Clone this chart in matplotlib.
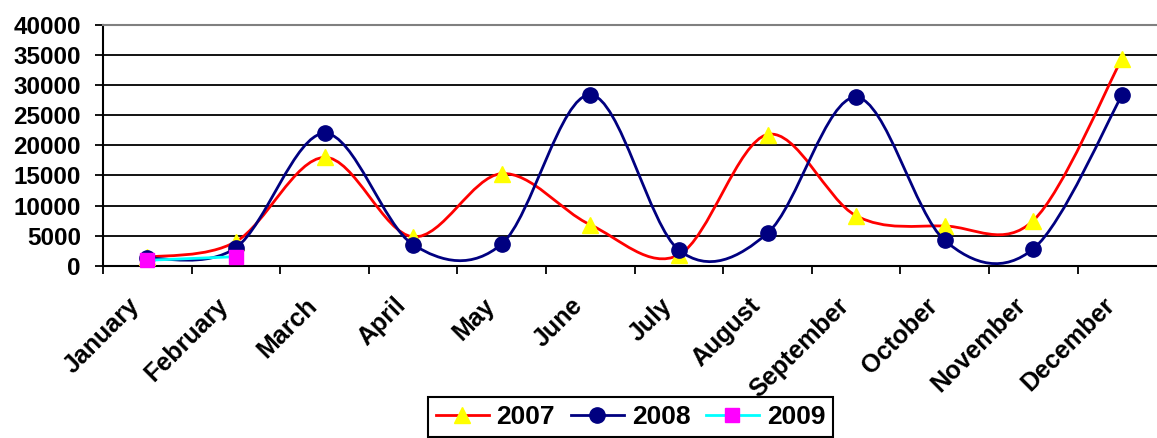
import matplotlib
matplotlib.use("Agg")
import matplotlib.pyplot as plt
from matplotlib.path import Path
from matplotlib.patches import PathPatch
from matplotlib.lines import Line2D
import matplotlib.transforms as mtrans
import numpy as np

months = ["January", "February", "March", "April", "May", "June", "July",
          "August", "September", "October", "November", "December"]
sales_2007 = [1400, 4000, 18000, 4800, 15300, 6800, 1800, 21800, 8300, 6600, 7500, 34400]
sales_2008 = [1200, 3000, 22000, 3500, 3600, 28400, 2600, 5400, 28000, 4200, 2800, 28300]
sales_2009 = [900, 1500]

plt.rcParams["font.family"] = ["Liberation Sans", "DejaVu Sans"]
plt.rcParams["font.weight"] = "bold"


def smooth_path(xs, ys):
    # excel style smoothed line: catmull-rom turned into cubic bezier pieces
    pts = np.column_stack([xs, ys]).astype(float)
    n = len(pts)
    verts = [pts[0]]
    codes = [Path.MOVETO]
    for i in range(n - 1):
        p0 = pts[i - 1] if i > 0 else pts[i]
        p1 = pts[i]
        p2 = pts[i + 1]
        p3 = pts[i + 2] if i + 2 < n else pts[i + 1]
        c1 = p1 + (p2 - p0) / 6.0
        c2 = p2 - (p3 - p1) / 6.0
        verts += [c1, c2, p2]
        codes += [Path.CURVE4] * 3
    return Path(verts, codes)


fig = plt.figure(figsize=(11.57, 4.38), dpi=100)
ax = fig.add_axes([103 / 1157, 172.3 / 438, 1063.2 / 1157, 240.7 / 438])

series = [
    (sales_2007, "2007", "#FF0000", "^", "#FFFF00", 11),
    (sales_2008, "2008", "#000080", "o", "#000080", 11),
    (sales_2009, "2009", "#00FFFF", "s", "#FF00FF", 10),
]

handles = []
for vals, name, col, mk, mcol, ms in series:
    x = np.arange(len(vals))
    ax.add_patch(PathPatch(smooth_path(x, vals), facecolor="none",
                           edgecolor=col, lw=2, zorder=3, clip_on=False))
    ax.plot(x, vals, linestyle="none", marker=mk, markersize=ms,
            markerfacecolor=mcol, markeredgecolor=mcol, zorder=3, clip_on=False)
    handles.append(Line2D([], [], color=col, lw=2, marker=mk, markersize=ms,
                          markerfacecolor=mcol, markeredgecolor=mcol, label=name))

ax.set_xlim(-0.5, 11.5)
ax.set_ylim(0, 40000)
ax.set_yticks(np.arange(0, 40001, 5000))
ax.yaxis.grid(True, color="black", lw=1.3)
ax.set_axisbelow(True)

ax.set_xticks(np.arange(-0.5, 12, 1))
ax.set_xticklabels([])
ax.set_xticks(np.arange(12), minor=True)
ax.set_xticklabels(months, minor=True, rotation=45, ha="right", va="center",
                   rotation_mode="anchor", fontsize=18, fontweight="bold")
ax.tick_params(axis="x", which="minor", length=0, pad=26)
ax.tick_params(axis="x", which="major", length=6, width=1.3, color="black")
ax.tick_params(axis="y", length=6, width=1.3, pad=10, labelsize=17.5)

# nudge month labels a bit to the left, like excel puts them
shift = mtrans.ScaledTranslation(-0.11, 0, fig.dpi_scale_trans)
for lab in ax.get_xticklabels(minor=True):
    lab.set_transform(lab.get_transform() + shift)

for s in ["left", "bottom"]:
    ax.spines[s].set_color("black")
    ax.spines[s].set_linewidth(1.5)
ax.spines["top"].set_color("#808080")
ax.spines["top"].set_linewidth(1.5)
ax.spines["right"].set_visible(False)

leg = fig.legend(handles=handles, loc="upper left",
                 bbox_to_anchor=(428 / 1157, 1 - 397 / 438), ncol=3,
                 fontsize=19, handlelength=2.0, handletextpad=0.3,
                 columnspacing=0.6, fancybox=False, framealpha=1,
                 borderpad=0.3, borderaxespad=0)
leg.get_frame().set_edgecolor("black")
leg.get_frame().set_linewidth(1.5)

fig.savefig("out.png", dpi=100)
